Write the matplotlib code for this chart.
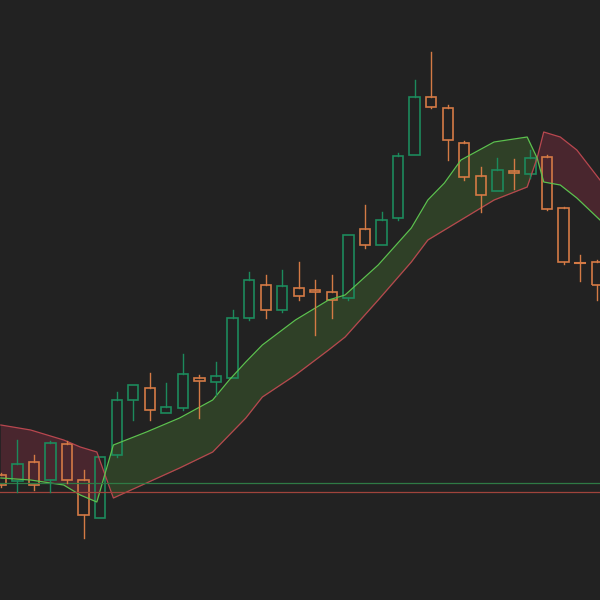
import numpy as np
import matplotlib.pyplot as plt
from matplotlib.patches import Rectangle

# ==================================================
# Data (price units)
# ==================================================

x_idx = np.arange(37)
opens = [475, 481, 462, 480, 444, 480, 518, 455, 400, 388, 413, 408, 378, 382, 378, 318, 285, 310, 288, 290,
         292, 298, 229, 245, 218, 155, 97, 108, 143, 176, 191, 171, 174, 157, 208, 262, 262]
closes = [485, 464, 485, 443, 480, 515, 457, 400, 385, 410, 407, 374, 381, 376, 318, 280, 310, 286, 296, 292,
          300, 235, 245, 220, 156, 97, 107, 140, 177, 195, 170, 173, 158, 209, 262, 263, 285]
highs = [473, 440, 455, 441, 441, 470, 457, 392, 385, 373, 383, 354, 375, 362, 310, 272, 275, 270, 262, 280,
         275, 235, 205, 212, 153, 80, 52, 105, 141, 167, 158, 159, 150, 155, 207, 255, 260]
lows = [487, 492, 490, 492, 483, 538, 518, 457, 420, 420, 413, 410, 418, 395, 378, 320, 318, 312, 300, 335,
        318, 300, 248, 245, 220, 155, 108, 160, 180, 212, 191, 189, 178, 210, 264, 281, 300]

band_x = [0, 1.8, 3.8, 4.8, 5.8, 6.8, 8.8, 10.8, 12.8, 13.8, 14.8, 15.8, 17.8, 19.8, 20.8, 22.8, 24.8, 25.8,
          26.8, 27.8, 29.8, 31.8, 32.4, 32.8, 33.8, 34.8, 36.2]
band_a = [425, 430, 440, 447, 452, 498, 483, 468, 452, 435, 418, 397, 375, 350, 337, 300, 262, 240, 230, 220,
          200, 187, 158, 132, 137, 150, 180]
band_b = [478, 480, 485, 495, 502, 445, 432, 418, 400, 380, 362, 345, 320, 300, 295, 265, 228, 200, 183, 160,
          142, 137, 158, 182, 185, 198, 220]

level_green = 483
level_red = 492

BG = "#222222"
UP = "#1c8a5c"
DOWN = "#d47a45"

fig = plt.figure(figsize=(6, 6), dpi=100, facecolor=BG)
ax = fig.add_axes([0, 0, 1, 1], facecolor=BG)

# cloud
bx = np.array(band_x)
a = 600 - np.array(band_a)
b = 600 - np.array(band_b)
ax.fill_between(bx, a, b, where=b >= a, interpolate=True, color="#3a5a2c", alpha=0.55, lw=0)
ax.fill_between(bx, a, b, where=b < a, interpolate=True, color="#6a2a38", alpha=0.55, lw=0)
ax.plot(bx, a, color="#b8474f", lw=0.9)
ax.plot(bx, b, color="#5cc14e", lw=0.9)

ax.axhline(600 - level_green, color="#2f7a45", lw=0.9)
ax.axhline(600 - level_red, color="#a0443c", lw=0.9)

# candles
w = 0.62
for i, o, c, h, l in zip(x_idx, opens, closes, highs, lows):
    o, c, h, l = 600 - o, 600 - c, 600 - h, 600 - l
    col = UP if c >= o else DOWN
    lo, hi = min(o, c), max(o, c)
    ax.plot([i, i], [hi, h], color=col, lw=1)
    ax.plot([i, i], [l, lo], color=col, lw=1)
    if hi - lo < 2:
        ax.plot([i - w / 2, i + w / 2], [lo, lo], color=col, lw=1.5)
    else:
        ax.add_patch(Rectangle((i - w / 2, lo), w, hi - lo, fill=False, ec=col, lw=1.2))

ax.set_xlim(-0.05, 36.2)
ax.set_ylim(0, 600)
ax.axis("off")
fig.savefig("out.png", dpi=100, facecolor=BG)
